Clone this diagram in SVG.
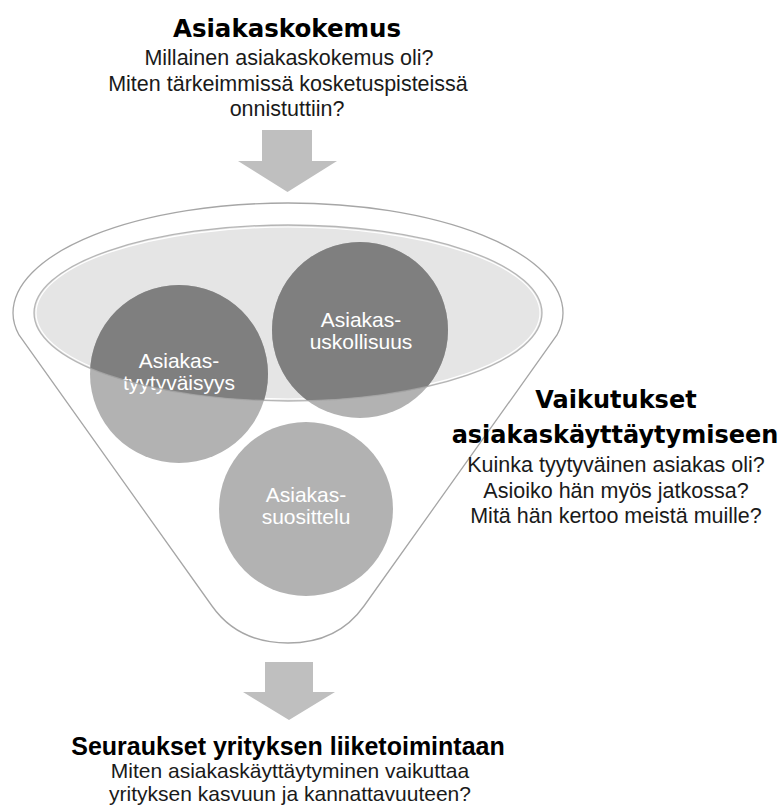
<svg xmlns="http://www.w3.org/2000/svg" width="783" height="807" viewBox="0 0 783 807">
  <style>
    .title { font-family: "DejaVu Sans", Verdana, sans-serif; font-weight: bold; font-size: 24px; fill: #000; text-anchor: middle; }
    .title2 { font-family: "Liberation Sans", Arial, sans-serif; font-weight: bold; font-size: 25px; fill: #000; text-anchor: middle; }
    .body { font-family: "Liberation Sans", Arial, sans-serif; font-size: 21.5px; fill: #1a1a1a; text-anchor: middle; }
    .foot { font-family: "Liberation Sans", Arial, sans-serif; font-size: 21px; fill: #1a1a1a; text-anchor: middle; }
    .circ { font-family: "Liberation Sans", Arial, sans-serif; font-size: 21px; fill: #fff; text-anchor: middle; }
    .arrow { fill: #bfbfbf; }
    .outline { fill: #fff; stroke: #a6a6a6; stroke-width: 1.3; }
    .bubble { fill: #b2b2b2; }
    .bubble-top { fill: #7f7f7f; }
  </style>
  <defs>
    <clipPath id="rim">
      <ellipse cx="288" cy="313" rx="254" ry="88"/>
    </clipPath>
  </defs>

  <rect width="783" height="807" fill="#fff"/>

  <!-- heading: customer experience -->
  <g id="header">
    <text class="title" x="287" y="37" style="font-size:24.5px">Asiakaskokemus</text>
    <text class="body" x="289" y="65">Millainen asiakaskokemus oli?</text>
    <text class="body" x="288" y="90.5">Miten tärkeimmissä kosketuspisteissä</text>
    <text class="body" x="287" y="116">onnistuttiin?</text>
  </g>

  <!-- block arrows -->
  <g id="connectors">
    <polygon class="arrow" points="262,130 312,130 312,161 337,161 287.5,192 238,161 262,161"/>
    <polygon class="arrow" points="265,662 313,662 313,692 335,692 289,720 243,692 265,692"/>
  </g>

  <!-- funnel body -->
  <g id="funnel">
    <path class="outline" d="M 13,313 A 275,110 0 0 1 563,313 Q 563,324 557,335 L 364,606 C 347,630 322,643 288,643 C 254,643 229,630 212,606 L 19,335 Q 13,324 13,313 Z"/>
    <ellipse cx="288" cy="313" rx="254" ry="88" fill="#e5e5e5"/>
    <ellipse cx="288" cy="313" rx="252" ry="86" fill="none" stroke="#fff" stroke-width="1.2"/>
  </g>

  <g id="node-tyytyvaisyys">
    <circle class="bubble" cx="179" cy="374" r="89"/>
    <circle class="bubble-top" cx="179" cy="374" r="89" clip-path="url(#rim)"/>
    <text class="circ" x="179" y="368">Asiakas-</text>
    <text class="circ" x="179" y="390">tyytyväisyys</text>
  </g>

  <g id="node-uskollisuus">
    <circle class="bubble" cx="360" cy="330" r="88"/>
    <circle class="bubble-top" cx="360" cy="330" r="88" clip-path="url(#rim)"/>
    <text class="circ" x="361" y="327">Asiakas-</text>
    <text class="circ" x="361" y="349">uskollisuus</text>
  </g>

  <g id="node-suosittelu">
    <circle class="bubble" cx="306" cy="509" r="87"/>
    <text class="circ" x="306" y="502">Asiakas-</text>
    <text class="circ" x="306" y="524">suosittelu</text>
  </g>

  <!-- rim line drawn over the bubbles -->
  <ellipse cx="288" cy="313" rx="254" ry="88" fill="none" stroke="#a6a6a6" stroke-width="1.3" opacity="0.8"/>

  <!-- side caption: effects on customer behaviour -->
  <g id="behaviour">
    <text class="title" x="616" y="408">Vaikutukset</text>
    <text class="title" x="615" y="443">asiakaskäyttäytymiseen</text>
    <text class="body" x="616" y="472">Kuinka tyytyväinen asiakas oli?</text>
    <text class="body" x="616" y="498">Asioiko hän myös jatkossa?</text>
    <text class="body" x="616" y="523">Mitä hän kertoo meistä muille?</text>
  </g>

  <!-- footer: business consequences -->
  <g id="footer">
    <text class="title2" x="288" y="755">Seuraukset yrityksen liiketoimintaan</text>
    <text class="foot" x="290" y="777.5">Miten asiakaskäyttäytyminen vaikuttaa</text>
    <text class="foot" x="290" y="800.5">yrityksen kasvuun ja kannattavuuteen?</text>
  </g>
</svg>
